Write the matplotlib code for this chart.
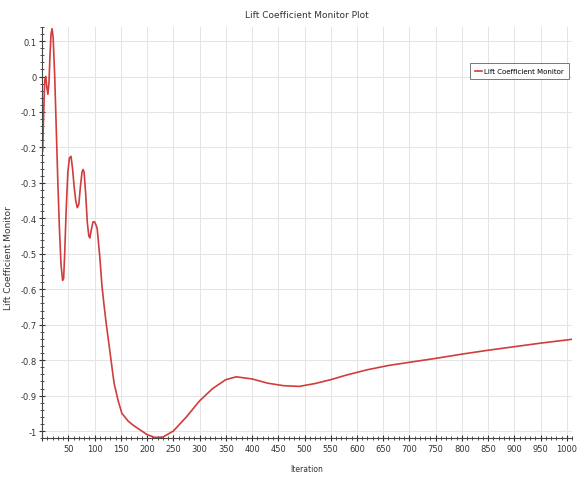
import numpy as np
import matplotlib
matplotlib.use("Agg")
import matplotlib.pyplot as plt
from matplotlib.ticker import MultipleLocator, FuncFormatter

# values
iteration = [1, 3, 5, 7, 9, 11, 13, 15, 17, 19, 21, 24, 27, 30, 33, 36, 39, 41,
             43, 46, 49, 52, 55, 58, 61, 64, 67, 70, 73, 76, 78, 80, 83, 86, 89,
             91, 94, 97, 100, 103, 105, 110, 114, 118, 122, 126, 130, 137, 145,
             152, 164, 173, 187, 200, 215, 230, 250, 275, 300, 325, 350, 370,
             400, 430, 460, 490, 520, 550, 580, 620, 660, 700, 750, 800, 850,
             900, 950, 1000, 1010]
lift = [-0.21, -0.10, -0.01, 0.0, -0.03, -0.05, -0.02, 0.06, 0.12, 0.135, 0.11,
        0.0, -0.15, -0.30, -0.43, -0.53, -0.575, -0.57, -0.50, -0.37, -0.27,
        -0.23, -0.225, -0.26, -0.31, -0.35, -0.37, -0.36, -0.31, -0.27, -0.262,
        -0.27, -0.33, -0.41, -0.45, -0.455, -0.43, -0.41, -0.41, -0.42, -0.43,
        -0.51, -0.59, -0.645, -0.695, -0.74, -0.785, -0.864, -0.915, -0.95,
        -0.972, -0.983, -0.997, -1.01, -1.018, -1.017, -1.0, -0.96, -0.915,
        -0.88, -0.855, -0.847, -0.853, -0.865, -0.872, -0.874, -0.866, -0.855,
        -0.842, -0.827, -0.815, -0.806, -0.795, -0.783, -0.772, -0.762, -0.752,
        -0.743, -0.741]
series_name = "Lift Coefficient Monitor"

fig = plt.figure(figsize=(5.85, 4.81), dpi=100)
ax = fig.add_axes([0.072, 0.087, 0.906, 0.855])

ax.plot(iteration, lift, color="#d23c3c", lw=1.2, label=series_name)

ax.set_xlim(0, 1010)
ax.set_ylim(-1.02, 0.14)
ax.xaxis.set_major_locator(MultipleLocator(50))
ax.xaxis.set_minor_locator(MultipleLocator(10))
ax.yaxis.set_major_locator(MultipleLocator(0.1))
ax.yaxis.set_minor_locator(MultipleLocator(0.02))
ax.xaxis.set_major_formatter(FuncFormatter(lambda v, p: "" if v == 0 else "%d" % v))
ax.yaxis.set_major_formatter(FuncFormatter(lambda v, p: "%g" % round(v, 2)))

ax.tick_params(which="both", direction="inout", labelsize=6, colors="#333333", pad=2)
ax.tick_params(which="major", length=4, width=0.8)
ax.tick_params(which="minor", length=2.5, width=0.6)

ax.grid(True, which="major", color="#e4e4e4", lw=0.7)
ax.set_axisbelow(True)
for s in ["top", "right"]:
    ax.spines[s].set_visible(False)
ax.spines["left"].set_color("#444444")
ax.spines["bottom"].set_color("#444444")

ax.set_title("Lift Coefficient Monitor Plot", fontsize=6.5, color="#333333", pad=7)
ax.set_xlabel("Iteration", fontsize=5.5, color="#333333", labelpad=8)
ax.set_ylabel("Lift Coefficient Monitor", fontsize=6.5, color="#333333")
ax.yaxis.set_label_coords(-0.055, 0.44)

leg = ax.legend(loc="upper right", bbox_to_anchor=(1.0, 0.92), fontsize=5,
                frameon=True, fancybox=False, handlelength=1.0, borderpad=0.7,
                handletextpad=0.3)
leg.get_frame().set_edgecolor("#555555")
leg.get_frame().set_linewidth(0.7)

fig.savefig("out.png", dpi=100)
